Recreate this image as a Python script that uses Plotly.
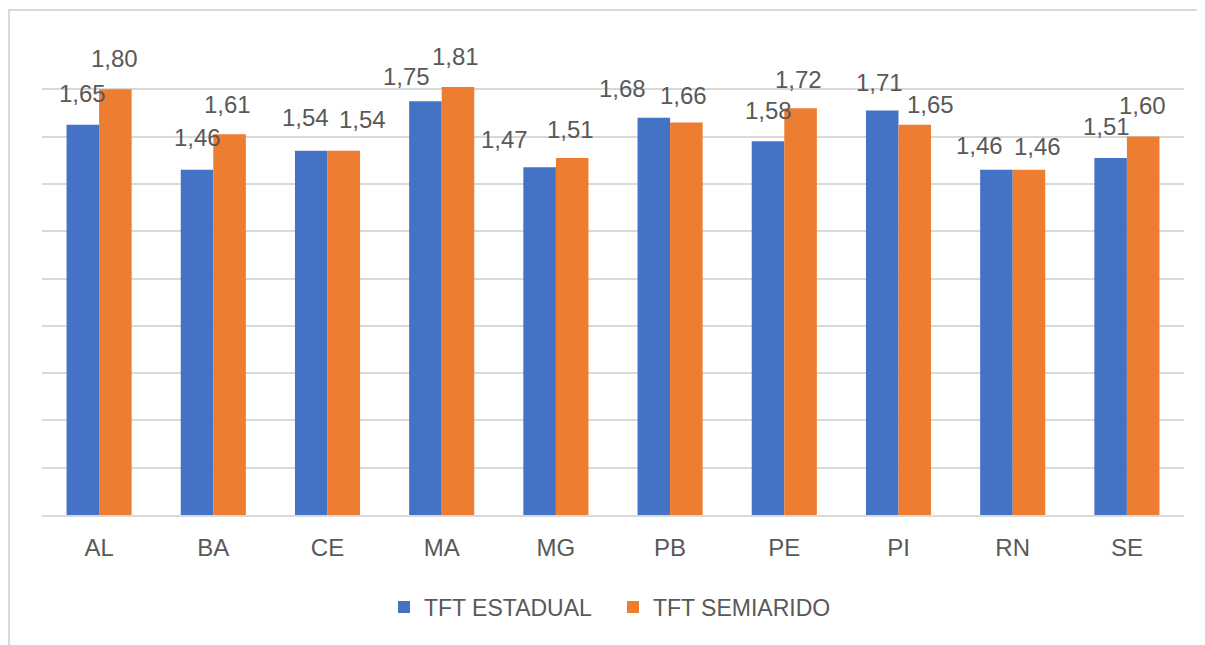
import plotly.graph_objects as go

categories = ["AL", "BA", "CE", "MA", "MG", "PB", "PE", "PI", "RN", "SE"]
tft_estadual = [1.65, 1.46, 1.54, 1.75, 1.47, 1.68, 1.58, 1.71, 1.46, 1.51]
tft_semiarido = [1.80, 1.61, 1.54, 1.81, 1.51, 1.66, 1.72, 1.65, 1.46, 1.60]
series_names = ["TFT ESTADUAL", "TFT SEMIARIDO"]
colors = ["#4472C4", "#ED7D31"]

# label nudges (pixels) relative to bar centre / bar top, as placed in the source chart
label_dx = [[0, 0, -6, -19, -35, -31, 0, -3, -17, -4],
            [-1, -2, 19, -2, -2, -3, -2, 16, 9, -1]]
label_dy = [[31, 32, 33, 25, 28, 29, 31, 28, 24, 31],
            [31, 30, 31, 30, 28, 27, 29, 20, 23, 31]]

FONT = "Liberation Sans"
TXT = "#595959"

fig = go.Figure()
for name, vals, col in zip(series_names, [tft_estadual, tft_semiarido], colors):
    fig.add_trace(go.Bar(x=categories, y=vals, name=name, marker_color=col,
                         marker_line_width=0))

ann = []
bar_px = 32.5
for k, vals in enumerate([tft_estadual, tft_semiarido]):
    base = -bar_px / 2 if k == 0 else bar_px / 2
    for i, (c, v) in enumerate(zip(categories, vals)):
        ann.append(dict(x=c, y=v, xref="x", yref="y", text=f"{v:.2f}".replace(".", ","),
                        showarrow=False, xshift=base + label_dx[k][i], yshift=label_dy[k][i],
                        yanchor="middle", xanchor="center",
                        font=dict(family=FONT, size=24, color=TXT)))

fig.update_layout(
    width=1197, height=637,
    margin=dict(l=34, r=21, t=34, b=130),
    paper_bgcolor="white", plot_bgcolor="white",
    barmode="group", bargap=0.43, bargroupgap=0,
    annotations=ann,
    showlegend=True,
    legend=dict(orientation="h", x=0.5, xanchor="center", y=-0.1945, yanchor="middle",
                font=dict(family=FONT, size=23, color=TXT), itemclick=False,
                entrywidth=184, entrywidthmode="pixels"),
    font=dict(family=FONT, size=24, color=TXT),
    shapes=[dict(type="rect", xref="paper", yref="paper", x0=-0.0289, x1=1.1,
                 y0=-0.5, y1=1.0677, line=dict(color="#d9d9d9", width=2),
                 fillcolor="rgba(0,0,0,0)", layer="below")],
)
fig.update_xaxes(showgrid=False, showline=True, linecolor="#d9d9d9", linewidth=1.5,
                 ticks="", ticklabelstandoff=10,
                 tickfont=dict(family=FONT, size=24, color=TXT))
fig.update_yaxes(range=[0, 2.0], dtick=0.2, showgrid=True, gridcolor="#d9d9d9",
                 gridwidth=1.5, showticklabels=False, zeroline=False, ticks="")

fig.write_html("out.html")
